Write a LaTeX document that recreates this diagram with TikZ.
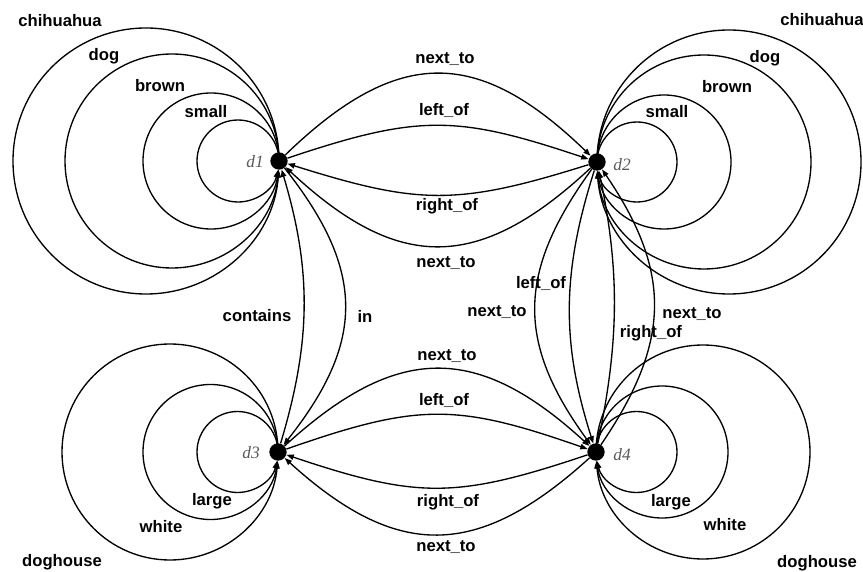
\documentclass[tikz,border=0pt]{standalone}
\usepackage{fontspec}
\setmainfont{Liberation Sans}
\newfontfamily\nodefont{Liberation Serif}
\usetikzlibrary{arrows.meta}
\tikzset{
  vert/.style={circle, fill=black, inner sep=0pt, minimum size=13pt},
  rel/.style={font=\bfseries\fontsize{12.5}{14}\selectfont, inner sep=0pt},
  nlab/.style={font=\nodefont\itshape\fontsize{13}{15}\selectfont, text=black!65, inner sep=0pt},
  edge/.style={draw, line width=1pt, -{Triangle[length=5.5pt,width=4pt]}},
}
\begin{document}
\begin{tikzpicture}[x=0.75pt,y=0.75pt]
\useasboundingbox (0,0) rectangle (863,571);
% vertices
\node[vert] (d1) at (279,410) {};
\node[vert] (d2) at (597,409) {};
\node[vert] (d3) at (278,119) {};
\node[vert] (d4) at (596,119) {};
\node[nlab] (n1) at (255,409) {d1};
\node[nlab] (n2) at (622,406) {d2};
\node[nlab] (n3) at (251,118) {d3};
\node[nlab] (n4) at (622,116) {d4};
% self loops
\foreach \r in {41,68,107,133}
  \draw[edge] (d1.center) arc[start angle=0, end angle={360-asin(9/\r)}, radius=\r];
\foreach \r in {40,67,107,132}
  \draw[edge] (d2.center) arc[start angle=180, end angle={-180+asin(9/\r)}, radius=\r];
\foreach \r in {40.5,67.5,108}
  \draw[edge] (d3.center) arc[start angle=0, end angle={360-asin(9/\r)}, radius=\r];
\foreach \r in {40.5,66,107}
  \draw[edge] (d4.center) arc[start angle=180, end angle={-180+asin(9/\r)}, radius=\r];
% loop labels
\node[rel] (a1) at (60,550) {chihuahua};
\node[rel] (a2) at (104,515) {dog};
\node[rel] (a3) at (160,485) {brown};
\node[rel] (a4) at (206,459) {small};
\node[rel] (b1) at (822,551) {chihuahua};
\node[rel] (b2) at (765,513) {dog};
\node[rel] (b3) at (727,484) {brown};
\node[rel] (b4) at (667,459) {small};
\node[rel] (c1) at (212,70) {large};
\node[rel] (c2) at (161,44) {white};
\node[rel] (c3) at (62,9) {doghouse};
\node[rel] (e1) at (671,69) {large};
\node[rel] (e2) at (725,46) {white};
\node[rel] (e3) at (817,8) {doghouse};
% d1 - d2
\draw[edge] (d1) .. controls +(119,115) and +(-119,115) .. (d2);
\draw[edge] (d1) .. controls +(140,47) and +(-140,47) .. (d2);
\draw[edge] (d2) .. controls +(-140,-44) and +(140,-44) .. (d1);
\draw[edge] (d2) .. controls +(-119,-111) and +(119,-111) .. (d1);
\node[rel] (t1) at (445,512) {next\_to};
\node[rel] (t2) at (444,461) {left\_of};
\node[rel] (t3) at (447,365) {right\_of};
\node[rel] (t4) at (446,308) {next\_to};
% d3 - d4
\draw[edge] (d3) .. controls +(119,109) and +(-119,109) .. (d4);
\draw[edge] (d3) .. controls +(140,49) and +(-140,49) .. (d4);
\draw[edge] (d4) .. controls +(-140,-47) and +(140,-47) .. (d3);
\draw[edge] (d4) .. controls +(-119,-108) and +(119,-108) .. (d3);
\node[rel] (u1) at (447,215) {next\_to};
\node[rel] (u2) at (444,171) {left\_of};
\node[rel] (u3) at (448,69) {right\_of};
\node[rel] (u4) at (446,24) {next\_to};
% d1 - d3
\draw[edge] (d3) .. controls +(33,110) and +(33,-110) .. (d1);
\draw[edge] (d1) .. controls +(87,-110) and +(87,110) .. (d3);
\node[rel] (v1) at (257,255) {contains};
\node[rel] (v2) at (365,255) {in};
% d2 - d4
\draw[edge] (d2) .. controls +(-80,-110) and +(-80,110) .. (d4);
\draw[edge] (d2) .. controls +(-35,-110) and +(-35,110) .. (d4);
\draw[edge] (d4) .. controls +(23,110) and +(23,-110) .. (d2);
\draw[edge] (d4) .. controls +(75,110) and +(75,-110) .. (d2);
\node[rel] (w1) at (541,288) {left\_of};
\node[rel] (w2) at (497,259) {next\_to};
\node[rel] (w3) at (692,257) {next\_to};
\node[rel] (w4) at (651,238) {right\_of};
\end{tikzpicture}
\end{document}
